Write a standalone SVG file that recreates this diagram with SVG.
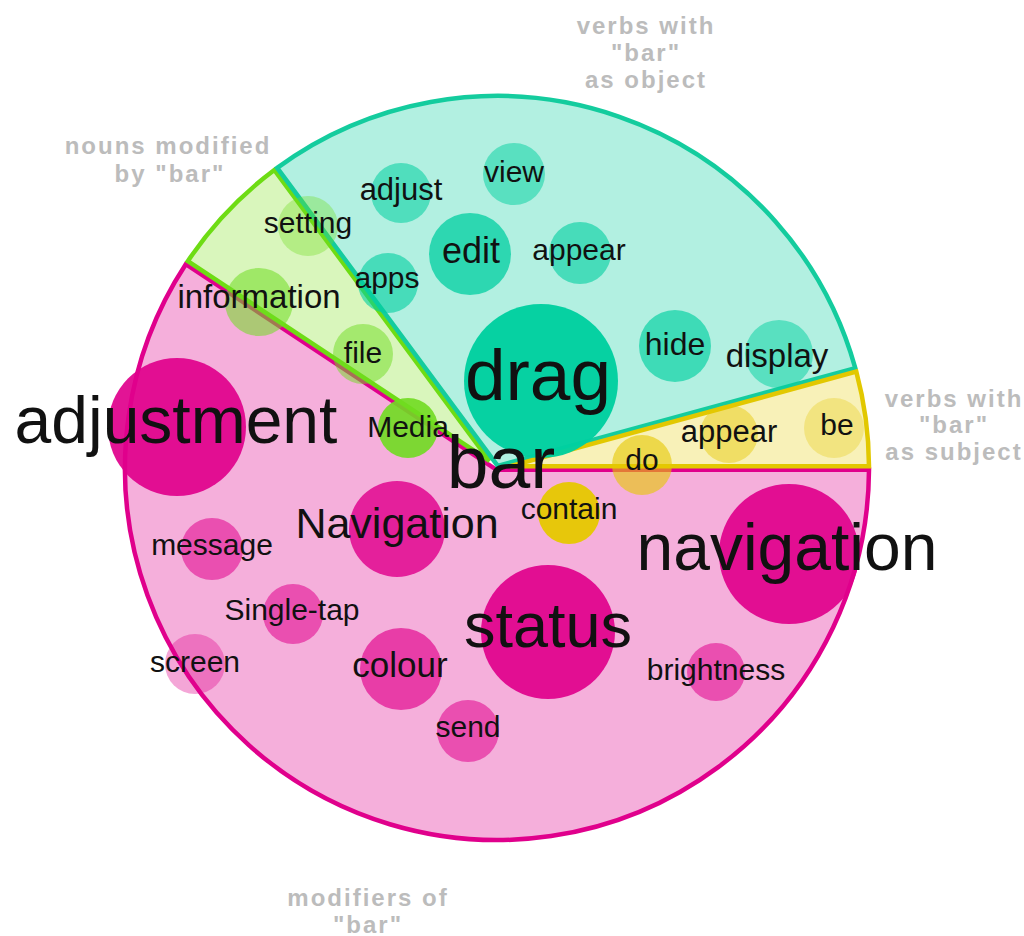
<svg xmlns="http://www.w3.org/2000/svg" width="1024" height="936" viewBox="0 0 1024 936">
<style>
  text { font-family: "Liberation Sans", Arial, sans-serif; fill: #111; text-anchor: middle; }
  .cat { font-weight: bold; fill: #bcbcbc; font-size: 24px; letter-spacing: 2px; }
  .w { stroke-width: 4.5; }
  .pink-w { fill: #f5afdb; stroke: #e0008c; }
  .green-w { fill: #d9f6bc; stroke: #6edc14; }
  .teal-w { fill: #b2f0e1; stroke: #14cc9e; }
  .yellow-w { fill: #f8f1b8; stroke: #e2c800; }
  .pk { fill: #e0008c; }
  .gr { fill: #70dc20; }
  .tl { fill: #00cfa0; }
  .yl { fill: #e6c800; }
</style>
<rect width="1024" height="936" fill="#ffffff"/>
<g id="wedges">
  <path id="wedge-modifiers" class="w pink-w" d="M496.5,469.8 L869,469.8 A372,372 0 1 1 185.8,264.2 Z"/>
  <path id="wedge-nouns" class="w green-w" d="M489.5,460.8 L187.8,261.2 A372,372 0 0 1 274.3,170 Z"/>
  <path id="wedge-object" class="w teal-w" d="M497.7,465.9 L277.2,167.9 A372,372 0 0 1 855.3,368.1 Z"/>
  <path id="wedge-subject" class="w yellow-w" d="M510.4,466.2 L856.3,371.6 A372,372 0 0 1 869,466.2 Z"/>
</g>
<g id="bubbles">
  <circle id="b-adjustment" class="pk" cx="177" cy="427" r="69" fill-opacity="0.92"/>
  <circle id="b-navigation" class="pk" cx="789" cy="554" r="70" fill-opacity="0.92"/>
  <circle id="b-status" class="pk" cx="548" cy="632" r="67" fill-opacity="0.92"/>
  <circle id="b-Navigation" class="pk" cx="397" cy="529" r="48" fill-opacity="0.82"/>
  <circle id="b-message" class="pk" cx="212" cy="549" r="31" fill-opacity="0.55"/>
  <circle id="b-single" class="pk" cx="293" cy="614" r="30" fill-opacity="0.55"/>
  <circle id="b-screen" class="pk" cx="195" cy="664" r="30" fill-opacity="0.35"/>
  <circle id="b-colour" class="pk" cx="401" cy="669" r="41" fill-opacity="0.65"/>
  <circle id="b-send" class="pk" cx="468" cy="731" r="31" fill-opacity="0.55"/>
  <circle id="b-brightness" class="pk" cx="716" cy="672" r="29" fill-opacity="0.55"/>
  <circle id="b-contain" class="yl" cx="569" cy="513" r="31" fill-opacity="0.95"/>
  <circle id="b-do" class="yl" cx="642" cy="465" r="30" fill-opacity="0.6"/>
  <circle id="b-appear-s" class="yl" cx="729" cy="434" r="29" fill-opacity="0.45"/>
  <circle id="b-be" class="yl" cx="834" cy="428" r="30" fill-opacity="0.3"/>
  <circle id="b-drag" class="tl" cx="541" cy="381" r="77" fill-opacity="0.97"/>
  <circle id="b-edit" class="tl" cx="470" cy="254" r="41" fill-opacity="0.75"/>
  <circle id="b-adjust" class="tl" cx="401" cy="193" r="30" fill-opacity="0.55"/>
  <circle id="b-view" class="tl" cx="514" cy="174" r="31" fill-opacity="0.5"/>
  <circle id="b-appear-o" class="tl" cx="580" cy="253" r="31" fill-opacity="0.6"/>
  <circle id="b-apps" class="tl" cx="388" cy="283" r="30" fill-opacity="0.6"/>
  <circle id="b-hide" class="tl" cx="675" cy="346" r="36" fill-opacity="0.65"/>
  <circle id="b-display" class="tl" cx="779" cy="354" r="34" fill-opacity="0.5"/>
  <circle id="b-setting" class="gr" cx="308" cy="226" r="30" fill-opacity="0.35"/>
  <circle id="b-information" class="gr" cx="259" cy="302" r="34" fill-opacity="0.55"/>
  <circle id="b-file" class="gr" cx="363" cy="354" r="30" fill-opacity="0.5"/>
  <circle id="b-media" class="gr" cx="408" cy="428" r="30" fill-opacity="0.9"/>
</g>
<g id="labels">
  <text x="176" y="443" font-size="66">adjustment</text>
  <text x="787" y="570" font-size="66">navigation</text>
  <text x="548" y="647" font-size="63">status</text>
  <text x="397" y="538" font-size="43">Navigation</text>
  <text x="212" y="555" font-size="30">message</text>
  <text x="292" y="620" font-size="30">Single-tap</text>
  <text x="195" y="672" font-size="30">screen</text>
  <text x="400" y="677" font-size="35">colour</text>
  <text x="468" y="737" font-size="30">send</text>
  <text x="716" y="680" font-size="30">brightness</text>
  <text x="569" y="519" font-size="30">contain</text>
  <text x="642" y="470" font-size="30">do</text>
  <text x="729" y="442" font-size="31">appear</text>
  <text x="837" y="435" font-size="30">be</text>
  <text x="538" y="400" font-size="73">drag</text>
  <text x="471" y="263" font-size="36">edit</text>
  <text x="401" y="200" font-size="31">adjust</text>
  <text x="514" y="182" font-size="30">view</text>
  <text x="579" y="260" font-size="30">appear</text>
  <text x="387" y="288" font-size="30">apps</text>
  <text x="675" y="355" font-size="32">hide</text>
  <text x="777" y="367" font-size="33">display</text>
  <text x="308" y="233" font-size="30">setting</text>
  <text x="259" y="308" font-size="33">information</text>
  <text x="363" y="363" font-size="30">file</text>
  <text x="408" y="437" font-size="30">Media</text>
  <text x="501" y="488" font-size="75">bar</text>
</g>
<g id="categories">
  <text class="cat" x="646" y="34">verbs with</text>
  <text class="cat" x="646" y="61">"bar"</text>
  <text class="cat" x="646" y="88">as object</text>
  <text class="cat" x="168" y="154">nouns modified</text>
  <text class="cat" x="170" y="182">by "bar"</text>
  <text class="cat" x="954" y="407">verbs with</text>
  <text class="cat" x="954" y="433">"bar"</text>
  <text class="cat" x="954" y="460">as subject</text>
  <text class="cat" x="368" y="906">modifiers of</text>
  <text class="cat" x="368" y="933">"bar"</text>
</g>
</svg>
